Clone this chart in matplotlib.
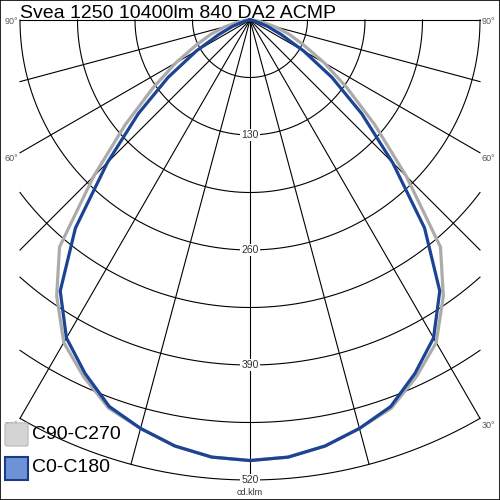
import numpy as np
import matplotlib
matplotlib.use("Agg")
import matplotlib.pyplot as plt
from matplotlib.patches import Rectangle, FancyBboxPatch

plt.rcParams['font.family'] = ['Liberation Sans', 'DejaVu Sans']

title = "Svea 1250 10400lm 840 DA2 ACMP"
angles = np.arange(0, 95, 5)  # gamma, degrees from nadir
# cd/klm, same on both halves
c0_c180 = [498, 496, 489, 478, 465, 441, 415, 374, 307, 228, 165, 113, 70, 39, 21, 8, 3, 1, 0]
c90_c270 = [498, 496, 489, 478, 467, 445, 421, 381, 335, 250, 184, 134, 97, 67, 47, 29, 14, 5, 0]
ring_labels = [130, 260, 390, 520]
angle_labels = [90, 60, 30]

# pixel helper: centre of the diagram sits at (250, 20) px, 460 px = 520 cd/klm
k = 520 / 460
def px(x, y):
    return (x - 250) * k, -(y - 20) * k

fig = plt.figure(figsize=(5, 5), dpi=100)
ax = fig.add_axes([0, 0, 1, 1])
x0, y0 = px(0, 500)
x1, y1 = px(500, 0)
ax.set_xlim(x0, x1)
ax.set_ylim(y0, y1)
ax.set_xticks([])
ax.set_yticks([])
for s in ax.spines.values():
    s.set_linewidth(1.2)
    s.set_color('black')

half = 260  # half width of the grid in cd/klm
rmax = 520

# rings every 65 cd/klm
for r in np.arange(65, rmax + 1, 65):
    tmax = np.arcsin(min(1.0, half / r))
    t = np.linspace(-tmax, tmax, 200)
    ax.plot(r * np.sin(t), -r * np.cos(t), color='black', lw=0.8, zorder=1)

# spokes every 15 degrees
for a in range(-90, 91, 15):
    t = np.radians(a)
    rend = rmax if abs(np.sin(t)) < 1e-9 else min(rmax, half / abs(np.sin(t)))
    ax.plot([0, rend * np.sin(t)], [0, -rend * np.cos(t)], color='black', lw=0.8, zorder=1)

for v in ring_labels:
    ax.text(0, -v, str(v), ha='center', va='center', fontsize=7.5,
            color='#333333', zorder=3,
            bbox=dict(facecolor='white', edgecolor='none', pad=1.0))
ax.text(*px(250, 493), "cd.klm", ha='center', va='center', fontsize=6.5, color='#333333', zorder=3)

offs = {90: 2, 60: 6, 30: 7}
for a in angle_labels:
    t = np.radians(a)
    rend = half / np.sin(t)
    yend = -rend * np.cos(t) - offs[a] * k
    ax.text(-half - 2 * k, yend, f"{a}°", ha='right', va='center', fontsize=6.5, color='#555555')
    ax.text(half + 2 * k, yend, f"{a}°", ha='left', va='center', fontsize=6.5, color='#555555')

# curves
ang = np.radians(np.concatenate([-angles[::-1], angles[1:]]))
for vals, col, z in [(c90_c270, '#ababab', 4), (c0_c180, '#1c4394', 5)]:
    r = np.array(vals, dtype=float)
    r = np.concatenate([r[::-1], r[1:]])
    ax.plot(r * np.sin(ang), -r * np.cos(ang), color=col, lw=2.3, zorder=z,
            solid_joinstyle='round')

# title
ax.text(*px(20, 18), title, ha='left', va='baseline', fontsize=14, color='black', zorder=6)

# legend
lx, ly = px(5, 446)
ax.add_patch(FancyBboxPatch((lx + 2 * k, ly + 2 * k), 19 * k, 19 * k,
                            boxstyle="round,pad=%f" % (2 * k),
                            facecolor='#d4d4d4', edgecolor='#c0c0c0', lw=1, zorder=6))
ax.text(*px(32, 435), "C90-C270", ha='left', va='center', fontsize=14, zorder=6)
bx, by = px(5, 480)
ax.add_patch(Rectangle((bx, by), 23 * k, 23 * k, facecolor='#6d92d6',
                       edgecolor='#1c3a8c', lw=1.5, zorder=6))
ax.text(*px(32, 468), "C0-C180", ha='left', va='center', fontsize=14, zorder=6)

fig.savefig("out.png", dpi=100)
